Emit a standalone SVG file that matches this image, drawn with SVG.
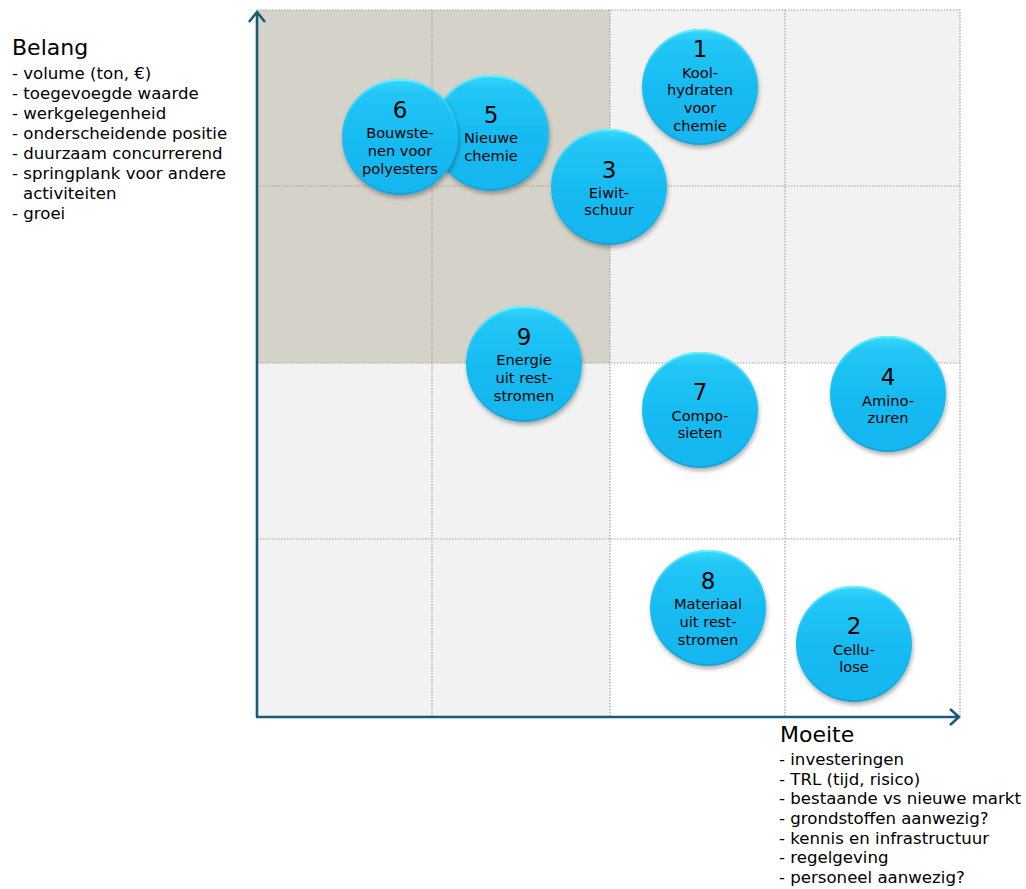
<svg xmlns="http://www.w3.org/2000/svg" width="1026" height="889" viewBox="0 0 1026 889">
<style>
text{font-family:"DejaVu Sans","Verdana",sans-serif;fill:#000}
.num{font-size:23px;text-anchor:middle}
.lbl{font-size:14.6px;text-anchor:middle}
.title{font-size:22px}
.item{font-size:16.6px}
.grid{stroke:#a8a294;stroke-width:1.2;stroke-dasharray:1.5 1.5;fill:none}
.axis{stroke:#1b5b7a;stroke-width:2.6;fill:none}
.ball{fill:url(#g);filter:url(#sh)}
.rim{fill:none;stroke:url(#r);stroke-width:2}
</style>
<defs>
<linearGradient id="g" x1="0" y1="0" x2="0" y2="1">
<stop offset="0" stop-color="#3ad8fb"/>
<stop offset="0.12" stop-color="#22c6f6"/>
<stop offset="0.6" stop-color="#15b9f1"/>
<stop offset="1" stop-color="#14b6ef"/>
</linearGradient>
<linearGradient id="r" x1="0" y1="0" x2="0" y2="1">
<stop offset="0" stop-color="#6af4ff" stop-opacity="0.9"/>
<stop offset="0.5" stop-color="#25c3f3" stop-opacity="0"/>
<stop offset="1" stop-color="#1a8fc0" stop-opacity="0.5"/>
</linearGradient>
<filter id="sh" x="-20%" y="-20%" width="140%" height="150%">
<feDropShadow dx="1" dy="3" stdDeviation="2" flood-color="#000" flood-opacity="0.3"/>
</filter>
</defs>
<rect width="1026" height="889" fill="#fff"/>
<g id="grid">
<rect x="257" y="10" width="353" height="353" fill="#d5d2c9"/>
<rect x="610" y="10" width="350" height="353" fill="#f2f2f2"/>
<rect x="257" y="363" width="353" height="353" fill="#f2f2f2"/>
<path class="grid" d="M257 10H960V716M257 186H960M257 363H960M257 539H960M432 10V716M610 10V716M785 10V716"/>
</g>
<g id="connectors">
<path class="axis" d="M257 717V12M249 22L257 12L265 22"/>
<path class="axis" d="M256 717H959M950 709L959 717L950 725"/>
</g>
<g id="belang">
<text class="title" x="12" y="55">Belang</text>
<text class="item" x="12" y="79">- volume (ton, €)</text>
<text class="item" x="12" y="99">- toegevoegde waarde</text>
<text class="item" x="12" y="119">- werkgelegenheid</text>
<text class="item" x="12" y="139">- onderscheidende positie</text>
<text class="item" x="12" y="159">- duurzaam concurrerend</text>
<text class="item" x="12" y="179">- springplank voor andere</text>
<text class="item" x="23" y="199">activiteiten</text>
<text class="item" x="12" y="219">- groei</text>
</g>
<g id="moeite">
<text class="title" x="780" y="742">Moeite</text>
<text class="item" x="779" y="765">- investeringen</text>
<text class="item" x="779" y="785">- TRL (tijd, risico)</text>
<text class="item" x="779" y="804">- bestaande vs nieuwe markt</text>
<text class="item" x="779" y="824">- grondstoffen aanwezig?</text>
<text class="item" x="779" y="844">- kennis en infrastructuur</text>
<text class="item" x="779" y="863">- regelgeving</text>
<text class="item" x="779" y="883">- personeel aanwezig?</text>
</g>
<g id="n5">
<circle class="ball" cx="491" cy="133" r="58"/><circle class="rim" cx="491" cy="133" r="57"/>
<text class="num" x="491" y="123">5</text>
<text class="lbl" x="491" y="143">Nieuwe</text>
<text class="lbl" x="491" y="161">chemie</text>
</g>
<g id="n6">
<circle class="ball" cx="400" cy="137" r="58"/><circle class="rim" cx="400" cy="137" r="57"/>
<text class="num" x="400" y="118">6</text>
<text class="lbl" x="400" y="138">Bouwste-</text>
<text class="lbl" x="400" y="156">nen voor</text>
<text class="lbl" x="400" y="174">polyesters</text>
</g>
<g id="n1">
<circle class="ball" cx="700" cy="87" r="58"/><circle class="rim" cx="700" cy="87" r="57"/>
<text class="num" x="700" y="57">1</text>
<text class="lbl" x="700" y="78">Kool-</text>
<text class="lbl" x="700" y="95">hydraten</text>
<text class="lbl" x="700" y="113">voor</text>
<text class="lbl" x="700" y="131">chemie</text>
</g>
<g id="n3">
<circle class="ball" cx="609" cy="187" r="58"/><circle class="rim" cx="609" cy="187" r="57"/>
<text class="num" x="609" y="178">3</text>
<text class="lbl" x="609" y="198">Eiwit-</text>
<text class="lbl" x="609" y="215">schuur</text>
</g>
<g id="n9">
<circle class="ball" cx="524" cy="364" r="58"/><circle class="rim" cx="524" cy="364" r="57"/>
<text class="num" x="524" y="345">9</text>
<text class="lbl" x="524" y="365">Energie</text>
<text class="lbl" x="524" y="383">uit rest-</text>
<text class="lbl" x="524" y="401">stromen</text>
</g>
<g id="n7">
<circle class="ball" cx="700" cy="410" r="58"/><circle class="rim" cx="700" cy="410" r="57"/>
<text class="num" x="700" y="400">7</text>
<text class="lbl" x="700" y="421">Compo-</text>
<text class="lbl" x="700" y="438">sieten</text>
</g>
<g id="n4">
<circle class="ball" cx="888" cy="394" r="58"/><circle class="rim" cx="888" cy="394" r="57"/>
<text class="num" x="888" y="385">4</text>
<text class="lbl" x="888" y="406">Amino-</text>
<text class="lbl" x="888" y="423">zuren</text>
</g>
<g id="n8">
<circle class="ball" cx="708" cy="608" r="58"/><circle class="rim" cx="708" cy="608" r="57"/>
<text class="num" x="708" y="589">8</text>
<text class="lbl" x="708" y="609">Materiaal</text>
<text class="lbl" x="708" y="627">uit rest-</text>
<text class="lbl" x="708" y="645">stromen</text>
</g>
<g id="n2">
<circle class="ball" cx="854" cy="644" r="58"/><circle class="rim" cx="854" cy="644" r="57"/>
<text class="num" x="854" y="634">2</text>
<text class="lbl" x="854" y="655">Cellu-</text>
<text class="lbl" x="854" y="672">lose</text>
</g>
</svg>
